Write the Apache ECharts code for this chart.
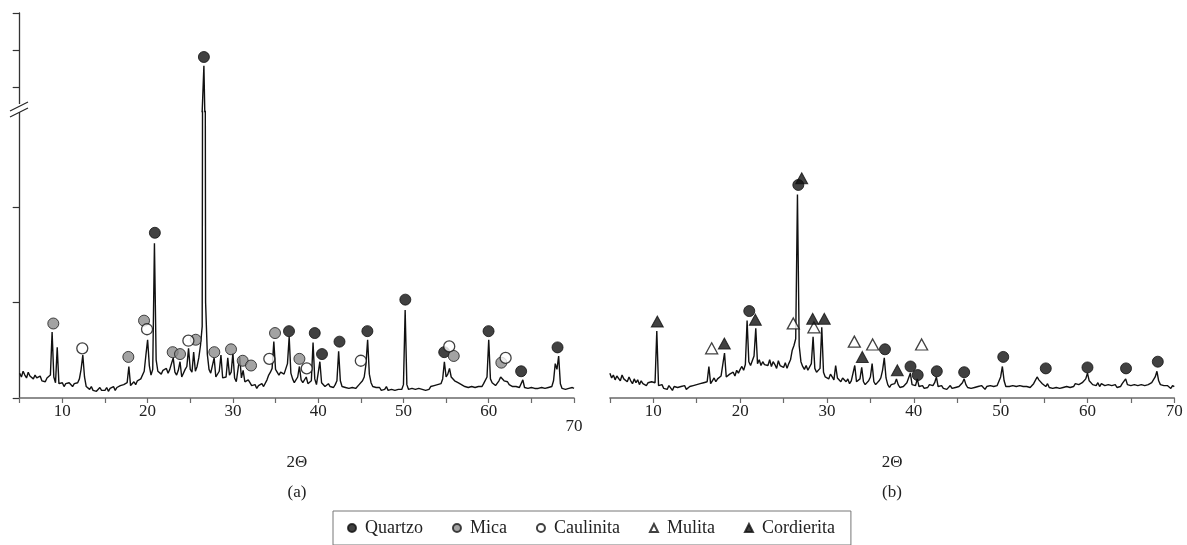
<!DOCTYPE html>
<html><head><meta charset="utf-8">
<script src="https://cdn.jsdelivr.net/npm/echarts@6/dist/echarts.min.js"></script>
<style>html,body{margin:0;padding:0;background:#fff}#c{width:1187px;height:545px}</style>
</head><body><div id="c"></div>
<script>
// Scan definition (2θ, degrees)
const scanStart = 5, scanStep = 0.2;
// Panel (a) intensity, a.u. (values above 670 belong to the compressed scale above the axis break)
const intensityA = [
26,22,28,24,21,27,23,25,20,24,
21,19,23,18,20,17,21,19,24,69,
22,16,53,15,14,16,12,15,13,16,
14,12,15,13,16,20,30,45,22,12,
11,9,12,8,10,7,9,11,8,10,
8,11,7,10,9,12,8,11,10,13,
11,14,12,16,33,13,15,17,14,18,
16,20,18,28,45,61,34,24,30,162,
40,28,30,25,29,27,31,26,30,28,
42,27,24,29,38,22,26,30,33,52,
30,27,48,28,33,42,55,75,1288,100,
46,30,26,24,42,22,20,28,45,21,
19,22,42,24,27,47,21,17,19,43,
21,29,17,15,19,16,13,11,14,10,
13,11,15,12,14,19,24,27,31,59,
30,28,24,27,29,25,27,36,64,26,
20,16,18,22,33,19,16,18,22,15,
14,18,58,20,14,16,38,16,14,12,
12,15,12,13,11,14,18,49,18,12,
13,11,13,10,12,11,13,10,12,14,
16,18,22,35,61,25,16,12,10,11,
9,11,8,10,9,12,8,10,9,11,
8,10,9,11,9,14,92,14,9,8,
10,8,9,7,10,8,9,11,8,10,
9,12,11,13,12,14,13,15,20,38,
22,25,31,22,24,18,20,16,18,14,
15,12,14,11,13,12,14,11,13,12,
14,12,15,14,22,61,20,16,14,13,
15,18,22,20,18,16,17,14,13,12,
11,12,10,11,12,19,11,9,10,9,
11,9,10,8,10,9,11,9,10,12,
11,13,12,18,36,30,44,15,10,11,
9,11,10,9,11,10
];
// Panel (b) intensity, a.u.
const intensityB = [
26,21,24,19,23,22,18,24,20,21,
17,22,18,15,20,16,19,14,18,15,
17,13,16,14,17,15,16,70,13,11,
14,10,12,9,13,11,8,12,10,11,
9,12,10,13,9,11,12,10,13,11,
14,12,15,13,16,14,17,33,15,18,
21,17,20,19,23,21,47,22,20,25,
24,27,23,29,26,30,33,29,35,81,
38,34,36,44,73,36,40,34,38,35,
37,34,40,33,38,35,31,39,34,36,
32,37,31,36,40,50,55,62,213,55,
38,33,30,34,29,31,36,64,31,27,
25,31,74,27,22,23,20,25,22,19,
34,21,19,17,21,22,17,20,15,18,
19,34,17,15,20,32,17,14,16,18,
22,36,17,14,16,18,21,29,42,21,
14,11,14,12,15,20,14,11,13,12,
14,16,18,26,14,12,13,20,12,11,
13,10,12,11,14,12,13,16,22,12,
11,13,10,12,9,11,13,10,12,11,
13,12,14,16,20,14,11,13,10,12,
11,9,12,10,13,11,9,12,10,13,
11,12,10,13,12,22,33,18,12,10,
12,10,13,11,12,10,13,11,12,14,
12,14,11,13,15,17,22,19,17,15,
14,12,15,11,13,10,12,11,13,10,
12,11,13,12,14,11,13,12,15,13,
14,13,16,15,20,26,18,20,14,15,
13,16,12,15,14,13,11,14,12,13,
12,14,11,13,12,15,16,20,14,12,
13,11,14,12,13,11,14,12,13,15,
14,13,16,18,22,28,18,14,12,13,
11,13,12,10,13,12
];
// Phase markers [2θ, intensity]
const quartzoA = [[20.85,173],[26.6,1406],[36.58,70],[39.6,68],[40.45,46],[42.5,59],[45.77,70],[50.22,103],[54.78,48],[59.98,70],[63.8,28],[68.07,53]];
const micaA = [[8.94,78],[17.74,43],[19.58,81],[22.94,48],[23.8,46],[25.64,61],[27.82,48],[29.78,51],[31.15,39],[32.13,34],[34.94,68],[37.8,41],[55.9,44],[61.48,37]];
const caulinitaA = [[12.34,52],[19.93,72],[24.78,60],[34.27,41],[38.66,31],[45.0,39],[55.37,54],[61.98,42]];
const quartzoB = [[21.05,91],[26.7,223],[36.68,51],[39.62,33],[40.45,24],[42.65,28],[45.8,27],[50.3,43],[55.2,31],[60.0,32],[64.44,31],[68.1,38]];
const cordieritaB = [[10.46,80],[18.18,57],[21.75,82],[27.09,230],[28.35,83],[29.69,83],[34.07,43],[38.1,29]];
const mulitaB = [[16.72,52],[26.12,78],[28.5,74],[33.15,59],[35.26,56],[40.9,56]];
const xTickLabels = [10,20,30,40,50,60,70];
const phaseNames = ['Quartzo','Mica','Caulinita','Mulita','Cordierita'];

const FONT = '"Liberation Serif", "DejaVu Serif", serif';
const toXY = arr => arr.map((v,i) => [+(scanStart + i*scanStep).toFixed(1), v]);
const traceA = toXY(intensityA), traceB = toXY(intensityB);
const LOW_MAX = 300, HIGH_MIN = 670, HIGH_MAX = 2000;

const styles = {
  Quartzo:   {symbol:'circle', size:11, itemStyle:{color:'#111', borderColor:'#111', borderWidth:1}},
  Mica:      {symbol:'circle', size:11, itemStyle:{color:'#8c8c8c', borderColor:'#1a1a1a', borderWidth:1}},
  Caulinita: {symbol:'circle', size:11, itemStyle:{color:'#ffffff', borderColor:'#111', borderWidth:1.3}},
  Mulita:    {symbol:'triangle', size:[12,11], itemStyle:{color:'#ffffff', borderColor:'#111', borderWidth:1.3}},
  Cordierita:{symbol:'triangle', size:[12,11], itemStyle:{color:'#111', borderColor:'#111', borderWidth:1}}
};
function scatter(name, data, xi, yi){
  const s = styles[name];
  return {type:'scatter', name, xAxisIndex:xi, yAxisIndex:yi, data, symbol:s.symbol, symbolSize:s.size,
    itemStyle:s.itemStyle, z:5, clip:true, emphasis:{disabled:true}, silent:true};
}
function line(data, xi, yi){
  return {type:'line', data, xAxisIndex:xi, yAxisIndex:yi, showSymbol:false, symbol:'none', clip:true,
    lineStyle:{color:'#111', width:1.4}, z:3, silent:true, animation:false};
}
const lowPts = a => a.filter(p => p[1] <= LOW_MAX);
const highPts = a => a.filter(p => p[1] >= HIGH_MIN);

function xAxisCfg(gi, lowerLast){
  return {type:'value', gridIndex:gi, min:5, max:70, interval:5,
    name:'2Θ', nameLocation:'middle', nameGap:56,
    nameTextStyle:{fontFamily:FONT, fontSize:17, color:'#222'},
    axisLine:{onZero:false, lineStyle:{color:'#6a6a6a', width:1.5}},
    axisTick:{length:5, lineStyle:{color:'#6a6a6a', width:1.2}},
    splitLine:{show:false},
    axisLabel:{margin:5, fontFamily:FONT, fontSize:17, color:'#222',
      formatter: v => (xTickLabels.indexOf(v) < 0 ? '' : (lowerLast && v === 70 ? '{low|70}' : String(v))),
      rich:{low:{fontFamily:FONT, fontSize:17, color:'#222', padding:[15,0,0,0]}}}
  };
}

const option = {
  animation:false,
  backgroundColor:'#fff',
  grid:[
    {left:19.7, top:111.5, width:554.3, height:286.5},
    {left:19.7, top:13, width:554.3, height:98.5},
    {left:609.9, top:13, width:564.4, height:385}
  ],
  xAxis:[
    xAxisCfg(0, true),
    {type:'value', gridIndex:1, min:5, max:70, show:false},
    xAxisCfg(2, false)
  ],
  yAxis:[
    {type:'value', gridIndex:0, min:0, max:LOW_MAX,
      axisLine:{show:true, onZero:false, lineStyle:{color:'#333', width:1.3}},
      axisTick:{show:true, length:7, customValues:[0,100,200], lineStyle:{color:'#333', width:1.2}},
      axisLabel:{show:false}, splitLine:{show:false}},
    {type:'value', gridIndex:1, min:HIGH_MIN, max:HIGH_MAX,
      axisLine:{show:true, onZero:false, lineStyle:{color:'#333', width:1.3}},
      axisTick:{show:true, length:7, customValues:[1000,1500,2000], lineStyle:{color:'#333', width:1.2}},
      axisLabel:{show:false}, splitLine:{show:false}},
    {type:'value', gridIndex:2, min:0, max:403, show:false}
  ],
  legend:{
    left:333, top:511, orient:'horizontal',
    borderColor:'#777', borderWidth:1, padding:[8,16,8,14],
    itemGap:29, itemWidth:8, itemHeight:8,
    textStyle:{fontFamily:FONT, fontSize:18, color:'#222', padding:[0,0,0,4]},
    selectedMode:false,
    data: phaseNames.map(n => ({name:n, icon: styles[n].symbol}))
  },
  graphic:[
    {type:'rect', shape:{x:15, y:104, width:9, height:8}, style:{fill:'#fff'}, z:100},
    {type:'line', shape:{x1:10, y1:111, x2:28, y2:102}, style:{stroke:'#222', lineWidth:1.2}, z:101},
    {type:'line', shape:{x1:10, y1:117, x2:28, y2:108}, style:{stroke:'#222', lineWidth:1.2}, z:101},
    {type:'text', style:{text:'(a)', x:297, y:493, textAlign:'center', textVerticalAlign:'middle', font:'17px "Liberation Serif"', fill:'#222'}},
    {type:'text', style:{text:'(b)', x:892, y:493, textAlign:'center', textVerticalAlign:'middle', font:'17px "Liberation Serif"', fill:'#222'}}
  ],
  series:[
    line(traceA, 0, 0),
    line(traceA, 1, 1),
    line(traceB, 2, 2),
    scatter('Quartzo', lowPts(quartzoA), 0, 0),
    scatter('Quartzo', highPts(quartzoA), 1, 1),
    scatter('Mica', lowPts(micaA), 0, 0),
    scatter('Caulinita', lowPts(caulinitaA), 0, 0),
    scatter('Quartzo', quartzoB, 2, 2),
    scatter('Mulita', mulitaB, 2, 2),
    scatter('Cordierita', cordieritaB, 2, 2)
  ]
};
const chart = echarts.init(document.getElementById('c'), null, {renderer:'canvas'});
chart.setOption(option);
</script>
</body></html>
